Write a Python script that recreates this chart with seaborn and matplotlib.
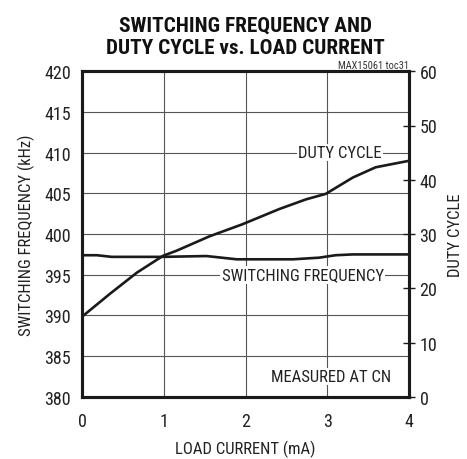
import matplotlib
matplotlib.use("Agg")
import matplotlib.pyplot as plt
from matplotlib import font_manager as fm
import seaborn as sns
import pandas as pd

# Switching frequency (kHz) vs load current (mA)
freq_current = [0.0, 0.18, 0.36, 0.99, 1.52, 1.89, 2.58, 2.9, 3.1, 3.31, 4.0]
freq_khz = [397.4, 397.4, 397.2, 397.2, 397.3, 396.9, 396.9, 397.1, 397.4, 397.5, 397.5]

# Duty cycle (%) vs load current (mA)
duty_current = [0.0, 0.34, 0.67, 0.99, 1.15, 1.56, 1.96, 2.41, 2.74, 2.98, 3.31, 3.59, 4.0]
duty_pct = [14.8, 19.0, 22.9, 26.0, 26.9, 29.6, 31.8, 34.6, 36.4, 37.4, 40.4, 42.3, 43.5]

x_ticks = [0, 1, 2, 3, 4]
freq_ticks = [380, 385, 390, 395, 400, 405, 410, 415, 420]
duty_ticks = [0, 10, 20, 30, 40, 50, 60]


def first_installed(candidates):
    have = {f.name for f in fm.fontManager.ttflist}
    for c in candidates:
        if c in have:
            return c
    return "DejaVu Sans"


BODY = first_installed(["Roboto Condensed", "Archivo Narrow", "Liberation Sans Narrow",
                        "Barlow Semi Condensed", "IBM Plex Sans Condensed"])
HEAD = first_installed(["Roboto Condensed", "Archivo Narrow", "Barlow Condensed",
                        "Fira Sans Condensed"])

sns.set_theme(style="white")
plt.rcParams["font.family"] = [BODY, "DejaVu Sans"]

df_f = pd.DataFrame({"current": freq_current, "freq": freq_khz})
df_d = pd.DataFrame({"current": duty_current, "duty": duty_pct})

fig = plt.figure(figsize=(4.67, 4.60), dpi=100)
ax = fig.add_axes([0.176, 0.135, 0.700, 0.708])
ax2 = ax.twinx()

sns.lineplot(data=df_f, x="current", y="freq", ax=ax, color="#1a1a1a", linewidth=1.9)
sns.lineplot(data=df_d, x="current", y="duty", ax=ax2, color="#1a1a1a", linewidth=1.9)

ax.set_xlim(0, 4)
ax.set_ylim(380, 420)
ax2.set_ylim(0, 60)
ax.set_xticks(x_ticks)
ax.set_yticks(freq_ticks)
ax2.set_yticks(duty_ticks)
ax.set_xticklabels([str(v) for v in x_ticks])
ax.set_yticklabels([str(v) for v in freq_ticks])
ax2.set_yticklabels([str(v) for v in duty_ticks])

ax.grid(True, color="#555555", linewidth=0.8)
ax2.grid(False)
ax.set_axisbelow(True)

for a in (ax, ax2):
    for s in a.spines.values():
        s.set_linewidth(2.2)
        s.set_color("#1a1a1a")

ax.tick_params(axis="y", length=0, labelsize=13, colors="#222222", pad=8)
ax.tick_params(axis="x", length=0, labelsize=13, colors="#222222", pad=11)
ax2.tick_params(axis="y", direction="inout", length=9, width=1.0, color="#1a1a1a",
                labelsize=13, labelcolor="#222222", pad=3, right=True)

ax.set_xlabel("LOAD CURRENT (mA)", fontsize=12, color="#222222", labelpad=7)
ax.set_ylabel("SWITCHING FREQUENCY (kHz)", fontsize=12, color="#222222", labelpad=7)
ax2.set_ylabel("DUTY CYCLE", fontsize=12, color="#222222", labelpad=8)

ax.set_title("SWITCHING FREQUENCY AND\nDUTY CYCLE vs. LOAD CURRENT",
             fontsize=15.3, fontweight="bold", family=[HEAD, "DejaVu Sans"],
             color="#111111", linespacing=1.25, pad=13)

ax.text(1.0, 1.005, "MAX15061 toc31", transform=ax.transAxes, ha="right", va="bottom",
        fontsize=7.5, color="#333333")

# Curve labels sit on the twin axes so they stay above both curves;
# the white boxes break the grid lines behind them.
box = dict(facecolor="white", edgecolor="none", pad=1.0)
to_duty = lambda f: (f - 380) * 60 / 40
ax2.text(3.15, to_duty(410), "DUTY CYCLE", ha="center", va="center", fontsize=12,
         color="#222222", bbox=box, zorder=3)
ax2.text(2.70, to_duty(395), "SWITCHING FREQUENCY", ha="center", va="center", fontsize=12,
         color="#222222", bbox=box, zorder=3)
ax2.text(3.04, to_duty(382.5), "MEASURED AT CN", ha="center", va="center", fontsize=12,
         color="#222222", bbox=box, zorder=3)

fig.savefig("out.png", dpi=100)
